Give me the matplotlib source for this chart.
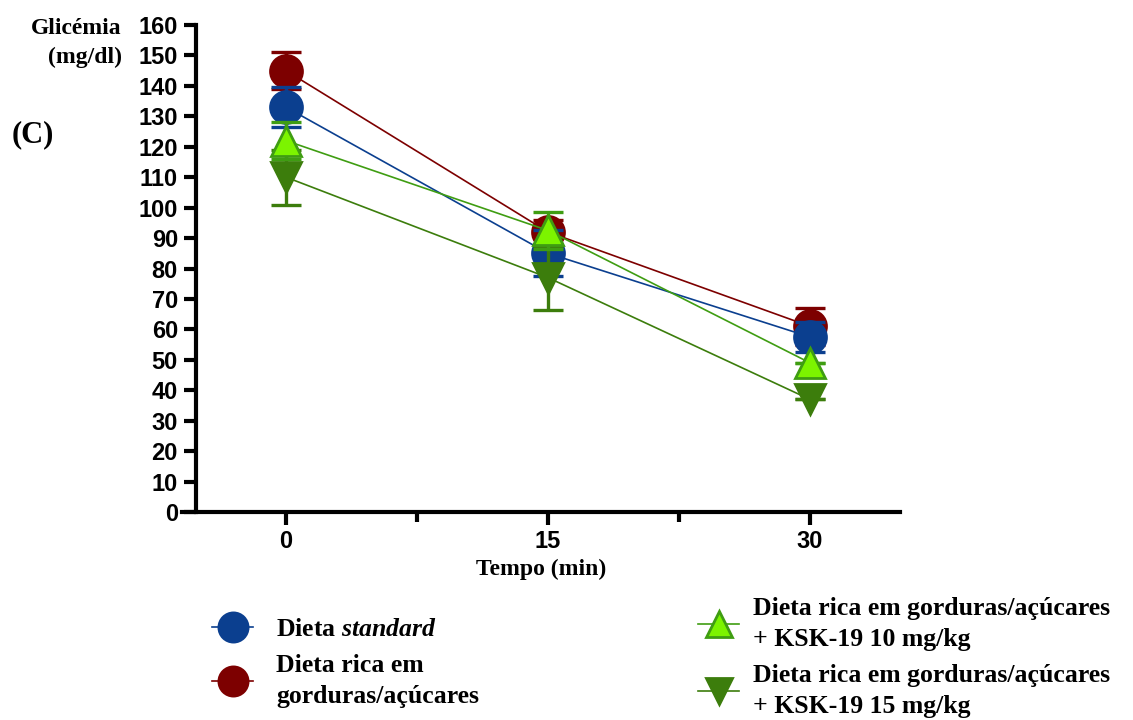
import matplotlib.pyplot as plt
from matplotlib.lines import Line2D

plt.rcParams['mathtext.fontset'] = 'custom'
plt.rcParams['mathtext.bfit'] = 'Liberation Serif:italic:bold'
plt.rcParams['mathtext.bf'] = 'Liberation Serif:bold'

tempo = [0, 15, 30]

# glicemia media e erro por grupo
std_mean = [133, 85, 57.5]
std_err = [6.5, 7.5, 5]
hfs_mean = [145, 92, 61]
hfs_err = [6, 4, 6]
ksk10_mean = [122, 92.5, 49]
ksk10_err = [6, 6, 0]
ksk15_mean = [110, 77, 37]
ksk15_err = [9, 10.5, 0]

labels = [r"Dieta $\mathbfit{standard}$",
          "Dieta rica em\ngorduras/açúcares",
          "Dieta rica em gorduras/açúcares\n+ KSK-19 10 mg/kg",
          "Dieta rica em gorduras/açúcares\n+ KSK-19 15 mg/kg"]

blue = '#0b3f8f'
red = '#7d0000'
lime = '#7cf400'
lime_edge = '#3f9d12'
dgreen = '#3c7d0c'

serif = 'Liberation Serif'
sans = 'Liberation Sans'

fig = plt.figure(figsize=(11.33, 7.2), dpi=100)
ax = fig.add_axes([182 / 1133, 1 - 512 / 720, (900 - 182) / 1133, (512 - 25) / 720])

series = [
    (hfs_mean, hfs_err, red, red, 'o', 3),
    (std_mean, std_err, blue, blue, 'o', 4),
    (ksk15_mean, ksk15_err, dgreen, dgreen, 'v', 5),
    (ksk10_mean, ksk10_err, lime, lime_edge, '^', 6),
]
for mean, err, fc, ec, mk, z in series:
    ms = 23 if mk == 'o' else 21
    # barras de erro por baixo dos marcadores
    ax.errorbar(tempo, mean, yerr=err, fmt='none', ecolor=ec, elinewidth=2.4,
                capsize=11, capthick=2.4, zorder=z)
    ax.plot(tempo, mean, color=ec, lw=1.2, marker=mk, ms=ms,
            mfc=fc, mec=ec, mew=2, zorder=z + 0.5)

ax.set_ylim(0, 160)
ax.set_xlim((182 - 286) / 262 * 15, (900 - 286) / 262 * 15)
ax.set_yticks(range(0, 161, 10))
ax.set_xticks(tempo)
ax.set_xticks([7.5, 22.5], minor=True)
for s in ['top', 'right']:
    ax.spines[s].set_visible(False)
ax.spines['left'].set_position(('data', (196 - 286) / 262 * 15))
ax.spines['left'].set_linewidth(3)
ax.spines['bottom'].set_linewidth(3)
ax.tick_params(axis='both', which='major', length=9, width=3, pad=4)
ax.tick_params(axis='x', which='minor', length=7, width=3)
for t in ax.get_yticklabels() + ax.get_xticklabels():
    t.set_fontfamily(sans)
    t.set_fontweight('bold')
    t.set_fontsize(17)

ax.set_xlabel('Tempo (min)', fontfamily=serif, fontweight='bold', fontsize=17, labelpad=4)

fig.text(122 / 1133, 1 - 28 / 720, 'Glicémia', ha='right', va='center',
         fontfamily=serif, fontweight='bold', fontsize=17)
fig.text(122 / 1133, 1 - 57 / 720, '(mg/dl)', ha='right', va='center',
         fontfamily=serif, fontweight='bold', fontsize=17)
fig.text(12 / 1133, 1 - 135 / 720, '(C)', ha='left', va='center',
         fontfamily=serif, fontweight='bold', fontsize=22)


def handle(fc, ec, mk):
    ms = 21 if mk == 'o' else 19
    return Line2D([], [], color=ec, lw=1.2, marker=mk, ms=ms, mfc=fc, mec=ec, mew=2)


leg_kw = dict(frameon=False, handlelength=1.6, labelspacing=0.5,
              borderpad=0, borderaxespad=0,
              prop={'family': serif, 'weight': 'bold', 'size': 18.5})
leg1 = fig.legend([handle(blue, blue, 'o'), handle(red, red, 'o')], labels[:2],
                  loc='upper left', bbox_to_anchor=(212 / 1133, 1 - 618 / 720),
                  handletextpad=0.9, **leg_kw)
leg2 = fig.legend([handle(lime, lime_edge, '^'), handle(dgreen, dgreen, 'v')], labels[2:],
                  loc='upper left', bbox_to_anchor=(698 / 1133, 1 - 597 / 720),
                  handletextpad=0.55, **leg_kw)
for leg in (leg1, leg2):
    for t in leg.get_texts():
        t.set_linespacing(1.45)

fig.savefig('out.png', dpi=100)
